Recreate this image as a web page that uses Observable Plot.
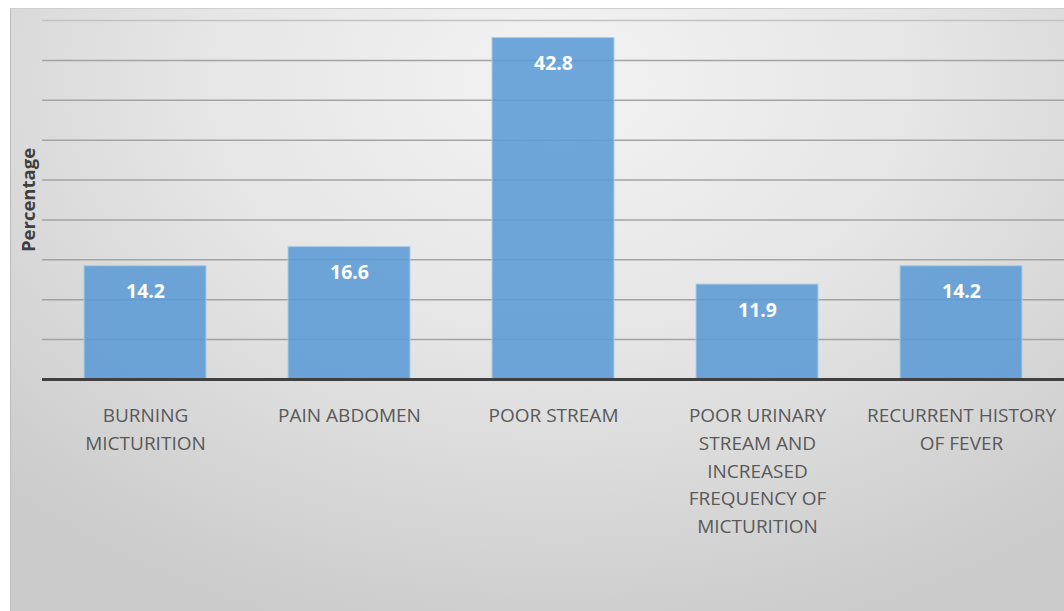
<!DOCTYPE html>
<html>
<head>
<meta charset="utf-8">
<script src="https://cdn.jsdelivr.net/npm/d3@7"></script>
<script src="https://cdn.jsdelivr.net/npm/@observablehq/plot@0.6"></script>
<style>
  html, body { margin: 0; padding: 0; background: #ffffff; }
  #wrap { position: relative; width: 1064px; height: 611px; overflow: hidden; }
  #bg {
    position: absolute; left: 10px; top: 8px; right: -2px; bottom: 0;
    border-left: 1px solid #bdbdbd; border-top: 1px solid #cfcfcf;
    background: radial-gradient(ellipse 75% 95% at 52% 12%, #f3f3f3 0%, #e6e6e6 45%, #cbcbcb 100%);
  }
  #chart { position: absolute; left: 0; top: 0; }
</style>
</head>
<body>
<div id="wrap"><div id="bg"></div><div id="chart"></div></div>
<script>
const categories = [
  "BURNING MICTURITION",
  "PAIN ABDOMEN",
  "POOR STREAM",
  "POOR URINARY STREAM AND INCREASED FREQUENCY OF MICTURITION",
  "RECURRENT HISTORY OF FEVER"
];
const values = [14.2, 16.6, 42.8, 11.9, 14.2];
const tickLabels = [
  "BURNING\nMICTURITION",
  "PAIN ABDOMEN",
  "POOR STREAM",
  "POOR URINARY\nSTREAM AND\nINCREASED\nFREQUENCY OF\nMICTURITION",
  "RECURRENT HISTORY\nOF FEVER"
];
const gridTicks = [5, 10, 15, 20, 25, 30, 35, 40];
const topTick = [45];
const yLabel = "Percentage";

const data = categories.map((c, i) => ({category: c, value: values[i]}));
const labelOf = new Map(categories.map((c, i) => [c, tickLabels[i]]));

const chart = Plot.plot({
  width: 1064,
  height: 611,
  marginLeft: 42,
  marginRight: 0,
  marginTop: 20,
  marginBottom: 232,
  style: {background: "transparent", fontFamily: "'Open Sans', sans-serif", overflow: "visible"},
  x: {domain: categories, paddingInner: 0.4, paddingOuter: 0.2, align: 0.5},
  y: {domain: [0, 45], axis: null},
  marks: [
    Plot.ruleY(gridTicks, {stroke: "#a3a3a3", strokeWidth: 1.5}),
    Plot.ruleY(topTick, {stroke: "#c2c2c2", strokeWidth: 1.5}),
    Plot.barY(data, {x: "category", y: "value", fill: "#5b9bd5", fillOpacity: 0.88, stroke: "#a9cbea", strokeWidth: 1}),
    Plot.ruleY([0], {stroke: "#404040", strokeWidth: 3}),
    Plot.text(data, {
      x: "category", y: "value", text: d => d.value.toFixed(1),
      dy: 26, fill: "white", fontWeight: "bold", fontSize: 19.5, lineAnchor: "middle"
    }),
    Plot.axisX({
      tickSize: 0, tickPadding: 23, fontSize: 19, lineHeight: 1.46,
      tickFormat: c => labelOf.get(c), fill: "#595959", label: null
    }),
    Plot.text([yLabel], {
      frameAnchor: "left", textAnchor: "middle", lineAnchor: "middle", rotate: -90, dx: -13, text: d => d,
      fontSize: 18.5, fontWeight: "bold", fill: "#404040"
    })
  ]
});
document.getElementById("chart").appendChild(chart);
</script>
</body>
</html>
